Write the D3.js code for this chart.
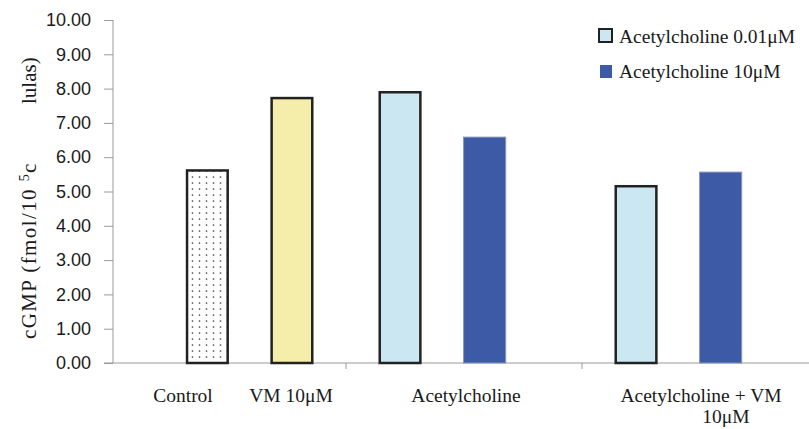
<!DOCTYPE html>
<html>
<head>
<meta charset="utf-8">
<script src="https://cdnjs.cloudflare.com/ajax/libs/d3/7.8.5/d3.min.js"></script>
<title>cGMP</title>
<style>
body{margin:0;background:#fff;}
.yaxis text{font-family:"Liberation Sans",Arial,sans-serif;font-size:18px;fill:#1a1a1a;}
.yaxis path,.yaxis line{stroke:#9a9a9a;}
.serif{font-family:"Liberation Serif","Times New Roman",serif;fill:#1a1a1a;}
</style>
</head>
<body>
<svg class="chart"></svg>
<script>
// data
const groups = ["g1", "g2", "g3"]
const groupLabels = [["Control", "VM 10\u03bcM"], ["Acetylcholine"], ["Acetylcholine + VM", "10\u03bcM"]]
const barNames = ["Control", "VM 10\u03bcM", "ACh 0.01\u03bcM", "ACh 10\u03bcM", "ACh+VM 0.01\u03bcM", "ACh+VM 10\u03bcM"]
const barGroup = ["g1", "g1", "g2", "g2", "g3", "g3"]
const barSlot = ["a", "b", "a", "b", "a", "b"]
const barValues = [5.65, 7.76, 7.93, 6.60, 5.19, 5.58]
const yTicks = [0, 1, 2, 3, 4, 5, 6, 7, 8, 9, 10]
const legendLabels = ["Acetylcholine 0.01\u03bcM", "Acetylcholine 10\u03bcM"]

window.onload = function(){
    let w = 809, h = 429
    let svg = d3.select('.chart').attr('width', w).attr('height', h)

    let x0 = 113, yTop = 20, yBot = 363
    let yScale = d3.scaleLinear().domain([0, 10]).range([yBot, yTop])
    let gScale = d3.scaleBand().domain(groups).range([110, 818])
    // inner slots; first group sits further right than the others
    let inner = d3.scaleBand().domain(["a", "b"]).range([0, gScale.bandwidth()])
        .paddingInner(0.49).paddingOuter(0.64).align(0.3)
    let innerFirst = inner.copy().align(0.7)

    // dotted fill for control
    let defs = svg.append('defs')
    let pat = defs.append('pattern').attr('id', 'dots').attr('patternUnits', 'userSpaceOnUse')
        .attr('width', 7).attr('height', 6)
    pat.append('rect').attr('width', 7).attr('height', 6).attr('fill', '#fff')
    pat.append('circle').attr('cx', 3.5).attr('cy', 3).attr('r', 0.85).attr('fill', '#444')

    let fills = ['url(#dots)', '#f5eeaa', '#cbe8f2', '#3c5aa6', '#cbe8f2', '#3c5aa6']
    let strokes = ['#222', '#222', '#222', '#8a94b8', '#222', '#8a94b8']
    let sw = [2.5, 2.5, 2.5, 1, 2.5, 1]

    // y axis
    let yAxis = d3.axisLeft(yScale).tickValues(yTicks).tickSize(9).tickPadding(13)
        .tickFormat(d3.format('.2f'))
    svg.append('g').classed('yaxis', true).attr('transform', 'translate(' + x0 + ',0)').call(yAxis)
        .select('.domain').attr('d', 'M0,' + yTop + 'V' + yBot)

    // x axis line + boundary ticks
    svg.append('line').attr('x1', x0 - 9).attr('x2', w).attr('y1', yBot).attr('y2', yBot)
        .attr('stroke', '#9a9a9a')
    svg.selectAll('line.gtick').data(groups.slice(1)).enter().append('line').classed('gtick', true)
        .attr('x1', d => gScale(d)).attr('x2', d => gScale(d))
        .attr('y1', yBot).attr('y2', yBot + 6).attr('stroke', '#9a9a9a')

    // bars
    let bars = barValues.map((v, i) => ({name: barNames[i], value: v, g: barGroup[i], s: barSlot[i], i: i}))
    svg.append('g').selectAll('rect').data(bars).enter().append('rect')
        .attr('x', d => gScale(d.g) + (d.g === groups[0] ? innerFirst : inner)(d.s) + sw[d.i] / 2)
        .attr('width', d => inner.bandwidth() - sw[d.i])
        .attr('y', d => yScale(d.value) + sw[d.i] / 2)
        .attr('height', d => yScale(0) - yScale(d.value) - sw[d.i] / 2)
        .attr('fill', d => fills[d.i])
        .attr('stroke', d => strokes[d.i])
        .attr('stroke-width', d => sw[d.i])

    // category labels
    let lab = svg.append('g').classed('serif', true).style('font-size', '19.5px').attr('text-anchor', 'middle')
    let c1 = gScale(groups[0]) + gScale.bandwidth() / 2
    lab.append('text').attr('x', c1 - 45).attr('y', 402).text(groupLabels[0][0])
    lab.append('text').attr('x', c1 + 63).attr('y', 402).text(groupLabels[0][1])
    let c2 = gScale(groups[1]) + gScale.bandwidth() / 2
    lab.append('text').attr('x', c2 + 2).attr('y', 402).text(groupLabels[1][0])
    let c3 = gScale(groups[2]) + gScale.bandwidth() / 2
    lab.append('text').attr('x', c3 + 1).attr('y', 402).text(groupLabels[2][0])
    lab.append('text').attr('x', c3 + 26).attr('y', 423).text(groupLabels[2][1])

    // y title (middle letters hidden in the original)
    let yt = svg.append('g').classed('serif', true).style('font-size', '21px')
    let t1 = yt.append('text').attr('transform', 'translate(36,339) rotate(-90)')
        .style('letter-spacing', '1.4px')
    t1.append('tspan').text('cGMP (fmol/10 ')
    t1.append('tspan').attr('dy', -7).style('font-size', '14px').text('5')
    t1.append('tspan').attr('dy', 7).text('c')
    yt.append('text').attr('transform', 'translate(36,104) rotate(-90)').text('lulas)')

    // legend
    let lg = svg.append('g')
    lg.append('rect').attr('x', 599).attr('y', 29).attr('width', 13).attr('height', 13)
        .attr('fill', '#cbe8f2').attr('stroke', '#222').attr('stroke-width', 2)
    lg.append('rect').attr('x', 600).attr('y', 65).attr('width', 12).attr('height', 13)
        .attr('fill', '#3c5aa6')
    lg.selectAll('text').data(legendLabels).enter().append('text').classed('serif', true)
        .style('font-size', '19.5px')
        .attr('x', 619).attr('y', (d, i) => 43 + i * 35).text(d => d)
}
</script>
</body>
</html>
